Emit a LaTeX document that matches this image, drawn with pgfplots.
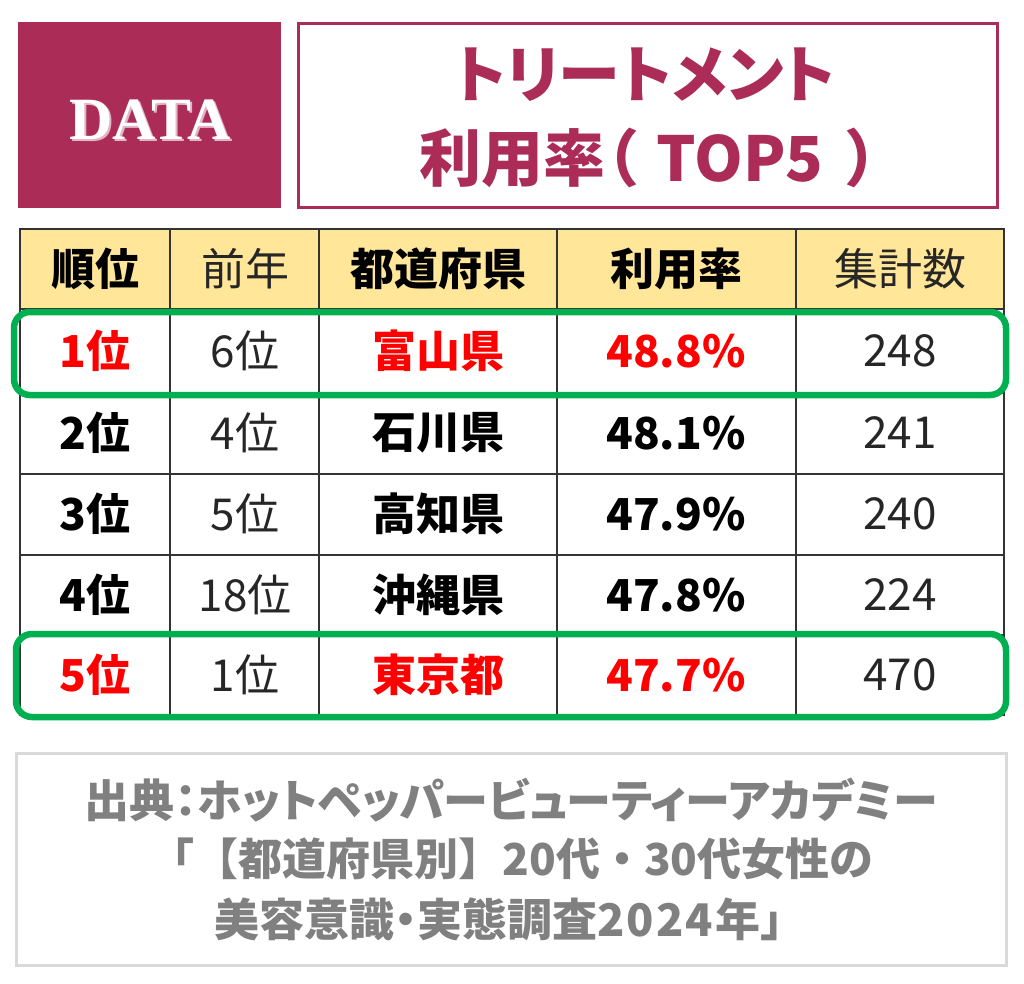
\documentclass[border=0pt]{standalone}
\usepackage{pgfplots}
\pgfplotsset{compat=1.18}
\usepackage{pgfplotstable}
\usepackage{fontspec}
\setmainfont{Noto Sans CJK JP}
\newfontfamily\jpp{Noto Sans CJK JP}[RawFeature=+palt]
\newfontfamily\datafont{Liberation Serif}
\definecolor{maroon}{RGB}{172,44,88}
\definecolor{hdr}{RGB}{255,230,153}
\definecolor{grn}{RGB}{0,176,80}
\definecolor{srcgray}{RGB}{128,128,128}
\definecolor{boxgray}{RGB}{217,217,217}
\definecolor{myred}{RGB}{255,0,0}

% rows: y = pixel row centre
\pgfplotstableread{
y rank prev pref rate count
351 1位 6位 富山県 48.8 248
675 5位 1位 東京都 47.7 470
}\redrows
\pgfplotstableread{
y rank prev pref rate count
433 2位 4位 石川県 48.1 241
514 3位 5位 高知県 47.9 240
595 4位 18位 沖縄県 47.8 224
}\blackrows

\begin{document}
\begin{tikzpicture}
\begin{axis}[
  width=1024pt, height=983pt, scale only axis,
  xmin=0, xmax=1024, ymin=0, ymax=983, y dir=reverse,
  hide axis, clip=false,
  point meta=explicit symbolic,
  every node near coord/.append style={anchor=center, inner sep=0pt},
]
% background
\fill[white] (axis cs:0,0) rectangle (axis cs:1024,983);
% DATA box
\fill[maroon] (axis cs:18,22) rectangle (axis cs:281,208);
\node[text=maroon!35, font=\datafont\bfseries\fontsize{60}{60}\selectfont] at (axis cs:152,122) {DATA};
\node[text=white, font=\datafont\bfseries\fontsize{60}{60}\selectfont] at (axis cs:150,120) {DATA};
% title box
\draw[maroon, line width=3pt] (axis cs:298,23) rectangle (axis cs:997,207);
\node[text=maroon, font=\jpp\bfseries\fontsize{62}{62}\selectfont] at (axis cs:645,75) {トリートメント};
\node[text=maroon, font=\jpp\bfseries\fontsize{62}{62}\selectfont] at (axis cs:649,158) {利用率（\hspace{20pt}TOP5\hspace{24pt}）};
% table header fill
\fill[hdr] (axis cs:20,229) rectangle (axis cs:1004,309);
% table lines
\draw[black!80, line width=1.5pt] (axis cs:20,229) rectangle (axis cs:1004,715);
\draw[black!80, line width=1.5pt] (axis cs:20,309) -- (axis cs:1004,309);
\draw[black!80, line width=1.5pt] (axis cs:20,393) -- (axis cs:1004,393);
\draw[black!80, line width=1.5pt] (axis cs:20,474) -- (axis cs:1004,474);
\draw[black!80, line width=1.5pt] (axis cs:20,555) -- (axis cs:1004,555);
\draw[black!80, line width=1.5pt] (axis cs:20,635) -- (axis cs:1004,635);
\draw[black!80, line width=1.5pt] (axis cs:170,229) -- (axis cs:170,715);
\draw[black!80, line width=1.5pt] (axis cs:319,229) -- (axis cs:319,715);
\draw[black!80, line width=1.5pt] (axis cs:557,229) -- (axis cs:557,715);
\draw[black!80, line width=1.5pt] (axis cs:796,229) -- (axis cs:796,715);
% header text
\node[font=\bfseries\fontsize{44}{44}\selectfont] at (axis cs:95,269) {順位};
\node[font=\fontsize{44}{44}\selectfont, text=black!85] at (axis cs:245,269) {前年};
\node[font=\bfseries\fontsize{44}{44}\selectfont] at (axis cs:438,269) {都道府県};
\node[font=\bfseries\fontsize{44}{44}\selectfont] at (axis cs:676,269) {利用率};
\node[font=\fontsize{44}{44}\selectfont, text=black!85] at (axis cs:900,269) {集計数};

% red rows
\addplot[mark=none, draw=none, nodes near coords, every node near coord/.append style={text=myred, font=\bfseries\fontsize{44}{44}\selectfont}]
  table[x expr=95, y=y, meta=rank] {\redrows};
\addplot[mark=none, draw=none, nodes near coords, every node near coord/.append style={text=black!85, font=\fontsize{44}{44}\selectfont}]
  table[x expr=245, y=y, meta=prev] {\redrows};
\addplot[mark=none, draw=none, nodes near coords, every node near coord/.append style={text=myred, font=\bfseries\fontsize{44}{44}\selectfont}]
  table[x expr=438, y=y, meta=pref] {\redrows};
\addplot[mark=none, draw=none, nodes near coords={\pgfplotspointmeta\%}, every node near coord/.append style={text=myred, font=\bfseries\fontsize{44}{44}\selectfont}]
  table[x expr=676, y=y, meta=rate] {\redrows};
\addplot[mark=none, draw=none, nodes near coords, every node near coord/.append style={text=black!85, font=\fontsize{44}{44}\selectfont}]
  table[x expr=900, y=y, meta=count] {\redrows};
% black rows
\addplot[mark=none, draw=none, nodes near coords, every node near coord/.append style={text=black, font=\bfseries\fontsize{44}{44}\selectfont}]
  table[x expr=95, y=y, meta=rank] {\blackrows};
\addplot[mark=none, draw=none, nodes near coords, every node near coord/.append style={text=black!85, font=\fontsize{44}{44}\selectfont}]
  table[x expr=245, y=y, meta=prev] {\blackrows};
\addplot[mark=none, draw=none, nodes near coords, every node near coord/.append style={text=black, font=\bfseries\fontsize{44}{44}\selectfont}]
  table[x expr=438, y=y, meta=pref] {\blackrows};
\addplot[mark=none, draw=none, nodes near coords={\pgfplotspointmeta\%}, every node near coord/.append style={text=black, font=\bfseries\fontsize{44}{44}\selectfont}]
  table[x expr=676, y=y, meta=rate] {\blackrows};
\addplot[mark=none, draw=none, nodes near coords, every node near coord/.append style={text=black!85, font=\fontsize{44}{44}\selectfont}]
  table[x expr=900, y=y, meta=count] {\blackrows};

% green highlight frames
\draw[grn, line width=6.5pt, rounded corners=16pt] (axis cs:14,312) rectangle (axis cs:1006,395);
\draw[grn, line width=6.5pt, rounded corners=16pt] (axis cs:16,634) rectangle (axis cs:1006,717);

% source box
\draw[boxgray, line width=3pt] (axis cs:16,753) rectangle (axis cs:1006,965);
\node[text=srcgray, font=\jpp\bfseries\fontsize{45}{45}\selectfont] at (axis cs:511,800) {出典：ホットペッパービューティーアカデミー};
\node[text=srcgray, font=\bfseries\fontsize{44}{44}\selectfont] at (axis cs:512,859) {「【都道府県別】20代・30代女性の};
\node[text=srcgray, font=\bfseries\fontsize{45}{45}\selectfont] at (axis cs:510,919) {美容意識{\jpp ・}実態調査2\hspace{2pt}0\hspace{2pt}2\hspace{2pt}4\hspace{2pt}年」};
\end{axis}
\end{tikzpicture}
\end{document}
